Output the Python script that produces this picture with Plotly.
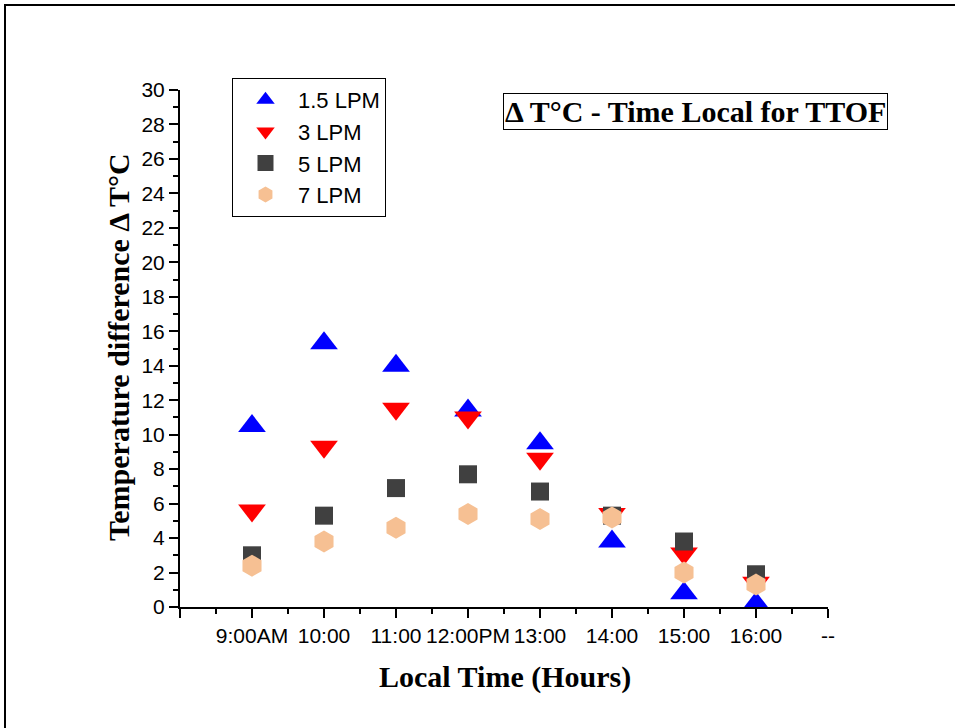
import plotly.graph_objects as go

# Hour slots along the x axis (slot 0 and 9 are padding)
x_slots = [1, 2, 3, 4, 5, 6, 7, 8]
tick_vals = [0, 1, 2, 3, 4, 5, 6, 7, 8, 9]
tick_text = ["", "9:00AM", "10:00", "11:00", "12:00PM", "13:00", "14:00", "15:00", "16:00", "--"]

# Temperature difference ΔT (°C) per flow rate
dt_1_5_lpm = [10.5, 15.3, 14.0, 11.4, 9.5, 3.8, 0.8, 0.2]
dt_3_lpm = [5.6, 9.3, 11.5, 11.0, 8.6, 5.4, 3.1, 1.4]
dt_5_lpm = [3.0, 5.3, 6.9, 7.7, 6.7, 5.3, 3.8, 1.9]
dt_7_lpm = [2.4, 3.8, 4.6, 5.4, 5.1, 5.2, 2.0, 1.3]

series_names = ["1.5 LPM", "3 LPM", "5 LPM", "7 LPM"]

SANS = "Liberation Sans, Arial, sans-serif"
SERIF = "Liberation Serif, Times New Roman, serif"

# Plot-area placement in pixels
W, H = 955, 728
L, R, T, B = 180, 828, 90, 607


def px_x(px):
    return (px - L) / (R - L)


def px_y(py):
    return (B - py) / (B - T)


fig = go.Figure()

styles = [
    (dt_1_5_lpm, "triangle-up", "#0000FF", 24),
    (dt_3_lpm, "triangle-down", "#FF0000", 24),
    (dt_5_lpm, "square", "#404040", 18),
    (dt_7_lpm, "hexagon", "#F6C093", 22),
]
for name, (vals, sym, col, size) in zip(series_names, styles):
    fig.add_trace(go.Scatter(
        x=x_slots, y=vals, mode="markers", name=name,
        marker=dict(symbol=sym, color=col, size=size, line=dict(width=0)),
    ))

axis_common = dict(
    showgrid=False, zeroline=False, showline=True, linecolor="black", linewidth=2,
    ticks="outside", ticklen=9, tickwidth=2, tickcolor="black",
    tickfont=dict(family=SANS, size=21, color="black"),
)

fig.update_xaxes(
    range=[0, 9], tickmode="array", tickvals=tick_vals, ticktext=tick_text,
    minor=dict(tickvals=[v + 0.5 for v in tick_vals[:-1]], ticklen=5, tickwidth=2,
               tickcolor="black", ticks="outside"),
    **axis_common,
)
fig.update_yaxes(
    range=[0, 30], tickmode="linear", tick0=0, dtick=2,
    minor=dict(dtick=1, ticklen=5, tickwidth=2, tickcolor="black", ticks="outside"),
    **axis_common,
)

fig.update_layout(
    width=W, height=H,
    margin=dict(l=L, r=W - R, t=T, b=H - B, pad=0),
    paper_bgcolor="white", plot_bgcolor="white",
    showlegend=True,
    legend=dict(
        x=px_x(232), y=px_y(78), xanchor="left", yanchor="top",
        font=dict(family=SANS, size=22, color="black"),
        bordercolor="black", borderwidth=1, bgcolor="white",
        itemsizing="trace", itemwidth=55, tracegroupgap=0,
    ),
    annotations=[
        dict(text="Δ T°C - Time Local for TTOF", xref="paper", yref="paper",
             x=px_x(695), y=px_y(111), xanchor="center", yanchor="middle",
             showarrow=False, bordercolor="black", borderwidth=1, borderpad=1,
             bgcolor="white",
             font=dict(family=SERIF, size=30, color="black", weight="bold")),
        dict(text="Local Time (Hours)", xref="paper", yref="paper",
             x=px_x(505), y=px_y(677), xanchor="center", yanchor="middle",
             showarrow=False,
             font=dict(family=SERIF, size=30, color="black", weight="bold")),
        dict(text="Temperature difference Δ T°C", xref="paper", yref="paper",
             x=px_x(118), y=px_y(347), xanchor="center", yanchor="middle",
             textangle=-90, showarrow=False,
             font=dict(family=SERIF, size=30, color="black", weight="bold")),
    ],
    shapes=[
        dict(type="rect", xref="paper", yref="paper",
             x0=px_x(5), x1=px_x(962), y0=px_y(5), y1=px_y(740),
             line=dict(color="black", width=2), fillcolor="rgba(0,0,0,0)", layer="below"),
    ],
)

fig.write_html("out.html")
